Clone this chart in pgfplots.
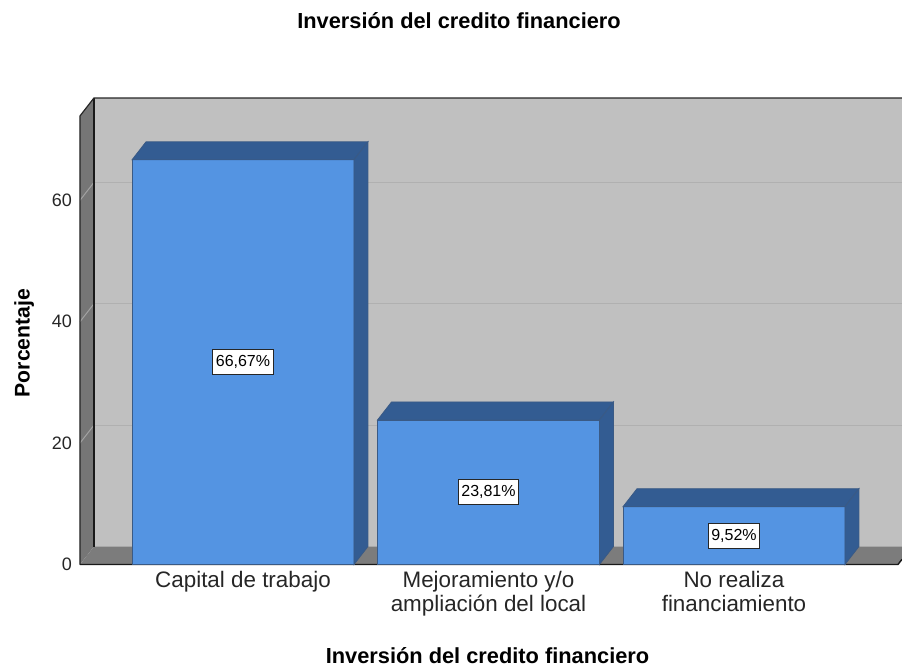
\documentclass[border=0pt]{standalone}
\usepackage{pgfplots}
\pgfplotsset{compat=1.18}
\usepackage{fontspec}
\setmainfont{Liberation Sans}
\definecolor{backwall}{HTML}{C0C0C0}
\definecolor{sidewall}{HTML}{767676}
\definecolor{floorc}{HTML}{7C7C7C}
\definecolor{gridback}{HTML}{B0B0B0}
\definecolor{gridside}{HTML}{A2A2A2}
\definecolor{barfront}{HTML}{5494E2}
\definecolor{bardark}{HTML}{335C92}
\definecolor{baredge}{HTML}{3A5A85}
\begin{document}
\begin{tikzpicture}
\path[use as bounding box] (-121.5pt,-50.75pt) rectangle (329.5pt,282.25pt);
\begin{axis}[
  anchor=origin, at={(0pt,0pt)},
  x=122.75pt, y=3.035pt,
  xmin=-0.664, xmax=2.668, ymin=0, ymax=73.9,
  clip=false,
  axis line style={draw=none},
  major tick length=0pt,
  tick style={draw=none},
  ytick={0,20,40,60},
  xtick={0,1,2},
  xticklabels={Capital de trabajo, {Mejoramiento y/o\\ampliación del local}, {No realiza\\financiamiento}},
  xticklabel style={align=center, anchor=north, font=\fontsize{11.2}{11.6}\selectfont, text=black!85},
  yticklabel style={anchor=east, font=\fontsize{9}{10}\selectfont, text=black!85, xshift=-0.5pt},
  /pgf/number format/assume math mode=true,
  title={\bfseries Inversión del credito financiero},
  every axis title/.style={at={(0.4634,1.1960)}, anchor=base, font=\fontsize{10.9}{12}\selectfont},
  xlabel={\bfseries Inversión del credito financiero},
  every axis x label/.style={at={(0.4982,-0.2203)}, anchor=base, font=\fontsize{10.9}{12}\selectfont},
  ylabel={\bfseries Porcentaje},
  every axis y label/.style={at={(-0.0617,0.4938)}, anchor=base, rotate=90, font=\fontsize{10.6}{12}\selectfont},
  no markers,
]
% back wall
\addplot[fill=backwall, draw=none] coordinates {(-0.607,2.965) (2.6843,2.965) (2.6843,76.865) (-0.607,76.865)} -- cycle;
% side wall
\addplot[fill=sidewall, draw=none] coordinates {(-0.664,0) (-0.607,2.965) (-0.607,76.865) (-0.664,73.9)} -- cycle;
% floor
\addplot[fill=floorc, draw=none] coordinates {(-0.664,0) (2.668,0) (2.6843,0.848) (2.6843,2.965) (-0.607,2.965)} -- cycle;
% grid lines, back wall
\addplot[gridback, line width=0.6pt] coordinates {(-0.607,22.965) (2.6843,22.965)};
\addplot[gridback, line width=0.6pt] coordinates {(-0.607,42.965) (2.6843,42.965)};
\addplot[gridback, line width=0.6pt] coordinates {(-0.607,62.965) (2.6843,62.965)};
% grid lines, side wall
\addplot[gridside, line width=0.5pt] coordinates {(-0.664,20) (-0.607,22.965)};
\addplot[gridside, line width=0.5pt] coordinates {(-0.664,40) (-0.607,42.965)};
\addplot[gridside, line width=0.5pt] coordinates {(-0.664,60) (-0.607,62.965)};
% outlines
\addplot[black!90, line width=1pt] coordinates {(-0.607,2.965) (-0.607,76.865)};
\addplot[black!85, line width=0.6pt] coordinates {(-0.664,0) (-0.664,73.9) (-0.607,76.865) (2.6843,76.865)};
\addplot[black!90, line width=0.7pt] coordinates {(-0.664,0) (2.668,0) (2.6843,0.848)};
% bars: front faces
\addplot[ybar, bar width=0.904, fill=barfront, draw=baredge, line width=0.4pt] coordinates {(0,66.67) (1,23.81) (2,9.52)};
% bars: top faces
\addplot[fill=bardark, draw=baredge, line width=0.4pt] coordinates {(-0.452,66.67) (0.452,66.67) (0.509,69.635) (-0.395,69.635)} -- cycle;
\addplot[fill=bardark, draw=baredge, line width=0.4pt] coordinates {(0.548,23.81) (1.452,23.81) (1.509,26.775) (0.605,26.775)} -- cycle;
\addplot[fill=bardark, draw=baredge, line width=0.4pt] coordinates {(1.548,9.52) (2.452,9.52) (2.509,12.485) (1.605,12.485)} -- cycle;
% bars: side faces
\addplot[fill=bardark, draw=baredge, line width=0.4pt] coordinates {(0.452,0) (0.509,2.965) (0.509,69.635) (0.452,66.67)} -- cycle;
\addplot[fill=bardark, draw=baredge, line width=0.4pt] coordinates {(1.452,0) (1.509,2.965) (1.509,26.775) (1.452,23.81)} -- cycle;
\addplot[fill=bardark, draw=baredge, line width=0.4pt] coordinates {(2.452,0) (2.509,2.965) (2.509,12.485) (2.452,9.52)} -- cycle;
% data labels
\node[fill=white, draw=black!85, line width=0.5pt, inner xsep=1.5pt, inner ysep=0pt, minimum height=12.5pt, font=\fontsize{8}{9}\selectfont] at (axis cs:0,33.33) {66,67\%};
\node[fill=white, draw=black!85, line width=0.5pt, inner xsep=1.5pt, inner ysep=0pt, minimum height=12.5pt, font=\fontsize{8}{9}\selectfont] at (axis cs:1,11.9) {23,81\%};
\node[fill=white, draw=black!85, line width=0.5pt, inner xsep=1.5pt, inner ysep=0pt, minimum height=12.5pt, font=\fontsize{8}{9}\selectfont] at (axis cs:2,4.76) {9,52\%};
\end{axis}
\end{tikzpicture}
\end{document}
